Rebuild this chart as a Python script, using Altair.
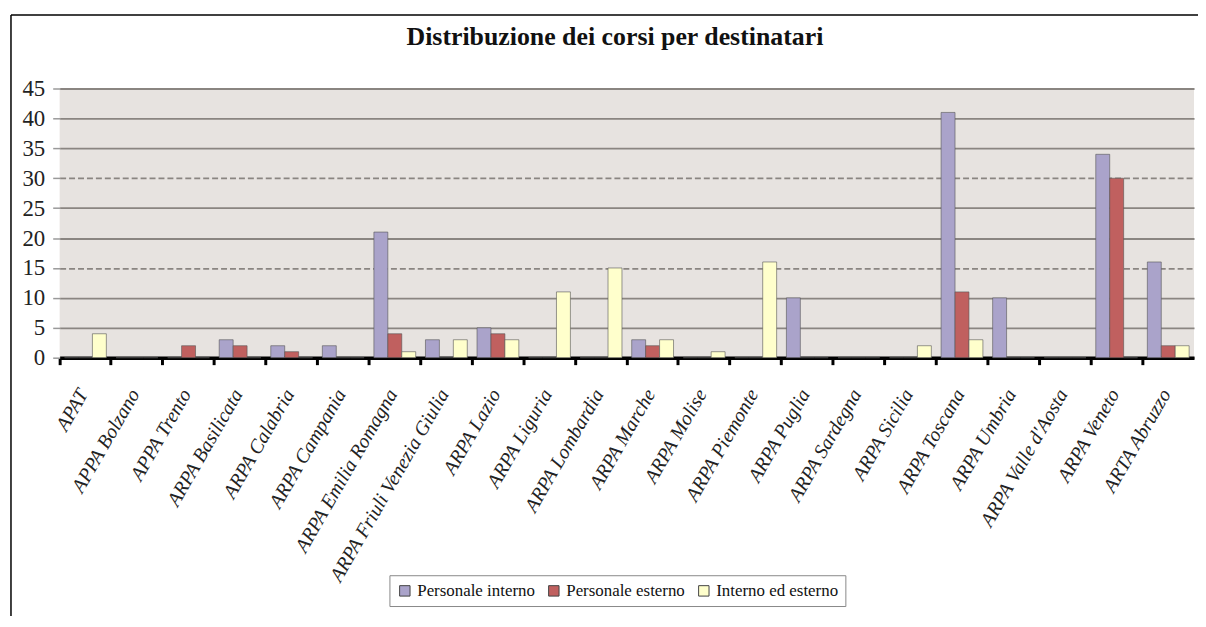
import altair as alt
import pandas as pd

categories = ["APAT", "APPA Bolzano", "APPA Trento", "ARPA Basilicata", "ARPA Calabria",
              "ARPA Campania", "ARPA Emilia Romagna", "ARPA Friuli Venezia Giulia", "ARPA Lazio",
              "ARPA Liguria", "ARPA Lombardia", "ARPA Marche", "ARPA Molise", "ARPA Piemonte",
              "ARPA Puglia", "ARPA Sardegna", "ARPA Sicilia", "ARPA Toscana", "ARPA Umbria",
              "ARPA Valle d'Aosta", "ARPA Veneto", "ARTA Abruzzo"]
series = ["Personale interno", "Personale esterno", "Interno ed esterno"]
personale_interno = [0, 0, 0, 3, 2, 2, 21, 3, 5, 0, 0, 3, 0, 0, 10, 0, 0, 41, 10, 0, 34, 16]
personale_esterno = [0, 0, 2, 2, 1, 0, 4, 0, 4, 0, 0, 2, 0, 0, 0, 0, 0, 11, 0, 0, 30, 2]
interno_ed_esterno = [4, 0, 0, 0, 0, 0, 1, 3, 3, 11, 15, 3, 1, 16, 0, 0, 2, 3, 0, 0, 0, 2]
colors = ["#aaa3ca", "#c0605f", "#ffffcc"]
y_ticks = [0, 5, 10, 15, 20, 25, 30, 35, 40, 45]

rows = []
for s, vals in zip(series, [personale_interno, personale_esterno, interno_ed_esterno]):
    for c, v in zip(categories, vals):
        rows.append({"cat": c, "serie": s, "val": v})
df = pd.DataFrame(rows)

bars = alt.Chart(df).mark_bar(stroke="#555555", strokeWidth=0.6).encode(
    x=alt.X("cat:N", sort=categories, title=None,
            scale=alt.Scale(paddingInner=0, paddingOuter=0),
            axis=alt.Axis(bandPosition=0, labelAngle=-60, labelAlign="right",
                          labelBaseline="middle", labelOffset=-2, labelPadding=26,
                          labelFont="Liberation Serif", labelFontStyle="italic",
                          labelFontSize=20, labelColor="#222222", labelLimit=400,
                          domainColor="black", domainWidth=3.5,
                          tickColor="black", tickWidth=3, tickSize=7, grid=False)),
    xOffset=alt.XOffset("serie:N", sort=series, scale=alt.Scale(paddingOuter=0.35, paddingInner=0)),
    y=alt.Y("val:Q", title=None,
            scale=alt.Scale(domain=[0, 45], nice=False),
            axis=alt.Axis(values=y_ticks, labelFont="Liberation Serif", labelFontSize=23,
                          labelColor="#222222", labelPadding=8, domain=False,
                          tickColor="#999999", tickSize=7, tickWidth=1.5,
                          grid=True, gridColor="#8a8581", gridWidth=1.8,
                          gridDash={"condition": {"test": "datum.value == 15 || datum.value == 30",
                                                  "value": [6, 3]}, "value": []})),
    color=alt.Color("serie:N", sort=series,
                    scale=alt.Scale(domain=series, range=colors),
                    legend=alt.Legend(title=None, orient="none", direction="horizontal",
                                      legendX=332, legendY=490,
                                      symbolType="square", symbolSize=110,
                                      symbolStrokeColor="#444444", symbolStrokeWidth=1,
                                      labelFont="Liberation Serif", labelFontSize=17,
                                      labelColor="#111111", columnPadding=10,
                                      strokeColor="#888888", fillColor="white",
                                      padding=7, labelLimit=300)),
)

border = alt.Chart(alt.Data(values=[{}])).mark_rule(color="black", strokeWidth=1.5).encode(
    x=alt.value(-49), y=alt.value(-74), y2=alt.value(560)
)
border_top = alt.Chart(alt.Data(values=[{}])).mark_rule(color="black", strokeWidth=1.5).encode(
    x=alt.value(-49), x2=alt.value(1170), y=alt.value(-74)
)

chart = alt.layer(bars, border, border_top).properties(
    width=1142, height=271,
    title=alt.TitleParams("Distribuzione dei corsi per destinatari", font="Liberation Serif",
                          fontSize=26, fontWeight="bold", color="#111111", frame="group",
                          anchor="middle", baseline="alphabetic", offset=-57, dx=-12),
    autosize=alt.AutoSizeParams(type="none"),
    padding={"left": 52, "top": 79, "right": 4, "bottom": 258},
).configure_view(fill="#e7e3e0", stroke=None)

chart.save("out.html", embed_options={"renderer": "svg", "actions": False})
